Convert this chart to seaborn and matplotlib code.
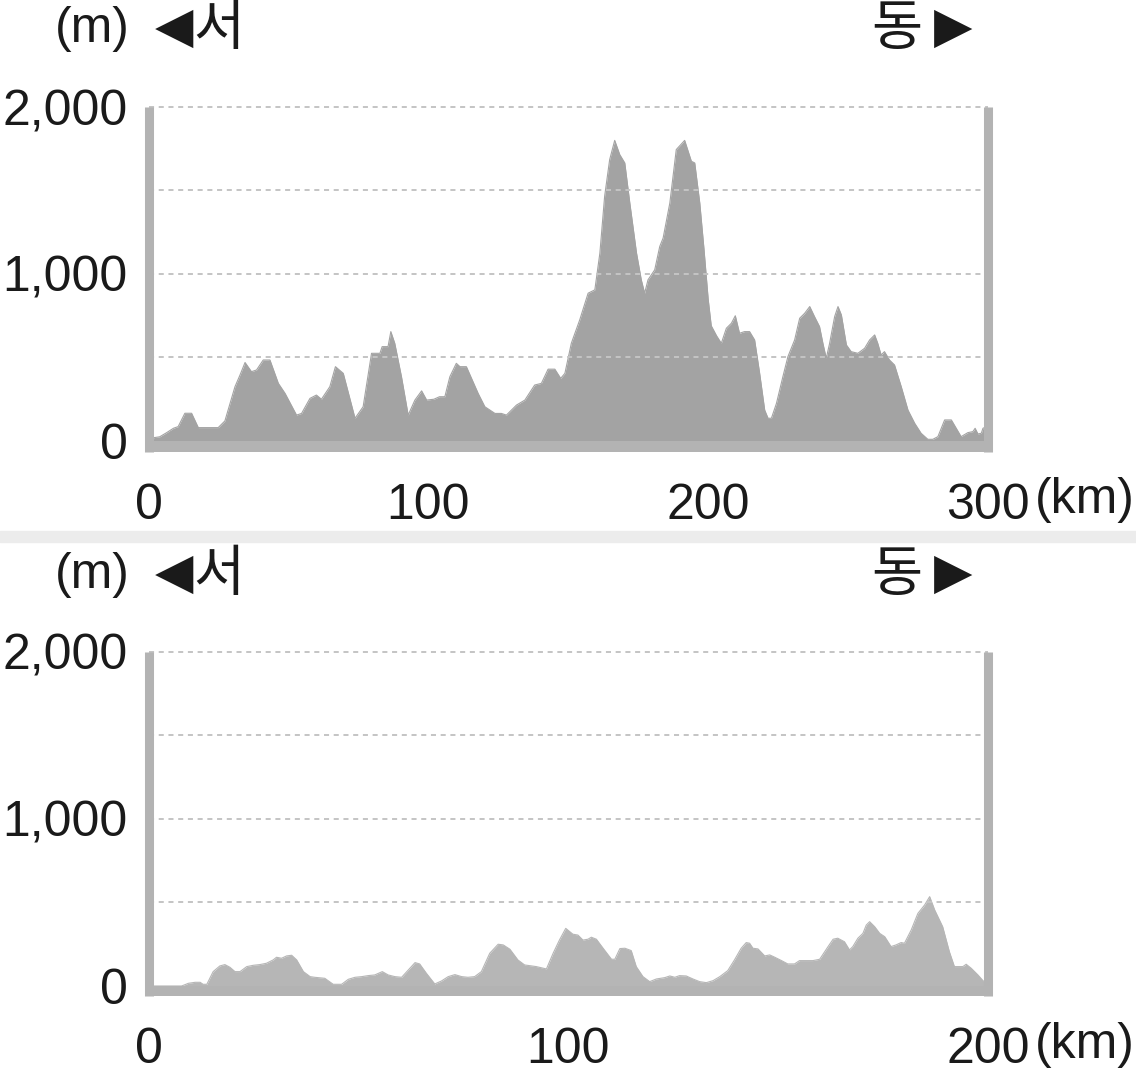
import matplotlib
matplotlib.use("Agg")
import matplotlib.pyplot as plt
import seaborn as sns
import pandas as pd

# ---------------- data ----------------
top_km = [0, 2, 4, 6.5, 8.9, 10.6, 13, 15.4, 17.8, 24.9, 27.3, 30.9, 32.7, 34.5, 36.8,
          38.6, 41, 43.4, 46.4, 48.8, 52.9, 54.7, 57.7, 60, 61.8, 64.8, 66.8, 69.6,
          73.8, 76.7, 79.7, 82.7, 83.5, 85.6, 86.6, 88, 90.4, 92.8, 95.2, 97.6, 99.4,
          102, 104, 105.9, 107.7, 110, 111.3, 113.6, 117.8, 120.2, 123.8, 126.1, 127.9,
          131.5, 134.5, 138, 140.4, 142.8, 145.2, 147.3, 148.8, 151.1, 154.1, 157.1,
          159.5, 161.3, 163, 164.8, 166.6, 168.4, 170.2, 172, 174.4, 176.1, 177.3,
          178.5, 180.9, 182.7, 183.9, 186.3, 188.6, 191.6, 194, 195.2, 197, 198.5, 200,
          201.1, 203, 204.7, 206.5, 208.3, 209.7, 211.2, 213, 214.8, 216.6, 218.4,
          220.2, 221.4, 222.6, 224.4, 226.7, 228.5, 230.9, 232.7, 234.5, 236.3, 238,
          239.8, 241, 242.2, 243.4, 245.2, 246.4, 247.6, 249.4, 251.1, 253.5, 255.9,
          257.7, 259.5, 260.6, 261.8, 263, 264.8, 266.6, 269, 271.4, 273.8, 276.1,
          278.5, 280.3, 282.1, 284.5, 286.9, 290.4, 292.8, 294.6, 295.4, 296.4, 297.6,
          298.2, 300]
top_elev = [10, 20, 25, 50, 76, 86, 166, 166, 80, 80, 120, 325, 395, 470, 415,
            425, 485, 485, 345, 285, 155, 165, 255, 275, 250, 325, 445, 405,
            136, 205, 525, 525, 565, 565, 655, 585, 385, 155, 245, 300, 245,
            250, 265, 265, 385, 465, 445, 445, 285, 205, 165, 165, 155,
            215, 245, 335, 345, 430, 430, 375, 405, 585, 725, 885,
            905, 1125, 1465, 1685, 1800, 1715, 1665, 1425, 1125, 965, 885,
            965, 1025, 1165, 1215, 1425, 1745, 1800, 1675, 1665, 1425, 1150, 850,
            690, 630, 585, 675, 705, 750, 645, 655, 655, 605, 405,
            185, 136, 136, 225, 385, 505, 605, 735, 765, 805, 745,
            685, 585, 495, 585, 745, 805, 755, 575, 535, 525, 555,
            605, 635, 585, 515, 535, 485, 455, 325, 185, 106, 46,
            10, 10, 26, 126, 126, 26, 50, 56, 76, 42, 46,
            76, 90]

bot_km = [0, 7.9, 9.5, 11.1, 12.3, 13, 13.9, 15.4, 17, 18.2, 19.4, 20.6, 21.8, 23.4,
          25, 26.5, 28.1, 29.7, 30.5, 31.7, 32.9, 34.1, 35.3, 36.9, 38.5, 39.6, 42,
          44, 46, 47.6, 49.2, 50.8, 52.3, 53.9, 55.7, 57.1, 58.7, 60.3, 61.9, 63.5,
          64.6, 66.2, 68.2, 69.8, 71.4, 73, 74.6, 76.1, 77.7, 79.3, 81.3, 83.3, 84.5,
          86.1, 88, 89.6, 92.4, 94.8, 96.4, 97.9, 99.4, 101.1, 102.3, 103.5, 104.7,
          105.5, 106.7, 108.3, 110.3, 111.1, 112.3, 113.5, 115, 116.2, 117.8, 119.4,
          121, 123, 124.2, 125.4, 126.5, 128.1, 129.7, 131.3, 132.9, 134.5, 136.1,
          138, 139.6, 141.2, 142.4, 143.2, 144, 145.2, 146.8, 148, 149.2, 150.8,
          152.3, 153.9, 155.1, 158.3, 159.9, 161.9, 163.1, 164.2, 165.8, 167, 167.8,
          169, 170.2, 171, 171.8, 173, 174.2, 175.4, 176.9, 178.1, 179.3, 180.1,
          181.7, 183.3, 184.9, 186.1, 187.3, 189.2, 190.8, 192, 194, 194.8, 196,
          197.6, 198.8, 200]
bot_elev = [0, 0, 16, 22, 22, 10, 10, 86, 120, 128, 112, 86, 86, 116,
            124, 128, 136, 156, 172, 166, 180, 184, 156, 86, 56, 52, 46,
            10, 10, 40, 52, 56, 62, 66, 86, 66, 56, 52, 96, 140,
            132, 76, 12, 30, 56, 68, 56, 52, 56, 86, 196, 250, 246,
            220, 156, 126, 116, 102, 196, 275, 345, 310, 305, 275, 280,
            292, 280, 226, 160, 160, 224, 226, 212, 116, 56, 26,
            42, 50, 60, 52, 62, 60, 42, 26, 20, 32, 56,
            92, 156, 226, 260, 256, 226, 222, 180, 186, 172, 152,
            132, 132, 152, 152, 160, 236, 280, 286, 265, 216, 236,
            286, 315, 365, 385, 355, 315, 295, 236, 246, 260, 256,
            335, 435, 485, 535, 455, 355, 205, 116, 116, 130, 106,
            66, 32, 10]

top_xticks = [0, 100, 200, 300]
bot_xticks = [0, 100, 200]
y_ticks = [0, 1000, 2000]
y_ticklabels = ["0", "1,000", "2,000"]
grid_levels = [500, 1000, 1500, 2000]

# ---------------- style ----------------
sns.set_theme(style="white")
plt.rcParams["font.family"] = ["Liberation Sans", "Noto Sans CJK KR", "DejaVu Sans"]

W, H = 1136, 1075
fig = plt.figure(figsize=(W / 100, H / 100), dpi=100)
fig.patch.set_facecolor("white")

TXT = "#1a1a1a"
FRAME = "#b3b3b3"
GRID = "#c4c4c4"
FS = 36
KFS = 40
KFAM = ["Noto Sans CJK KR", "DejaVu Sans"]

def fx(px):
    return px / W

def fy(py):
    return 1 - py / H

def make_panel(top_px, bot_px, ylo, km, elev, xticks, xmax, fill):
    ax = fig.add_axes([fx(148.5), fy(bot_px), fx(988) - fx(148.5), (bot_px - top_px) / H])
    df = pd.DataFrame({"km": km, "elev": elev})
    ax.fill_between(df["km"], df["elev"], 0, color=fill, linewidth=0, zorder=2)
    sns.lineplot(data=df, x="km", y="elev", ax=ax, color=fill, linewidth=0.8, zorder=2)
    ax.set_xlim(0, xmax)
    ax.set_ylim(ylo, 2000)
    for g in grid_levels:
        ax.axhline(g, color=GRID, linewidth=1.4, linestyle=(0, (2.6, 2.4)), zorder=3,
                   clip_on=False)
    ax.axhspan(ylo, 0, color=FRAME, linewidth=0, zorder=4)
    for s in ["top", "bottom"]:
        ax.spines[s].set_visible(False)
    for s in ["left", "right"]:
        ax.spines[s].set_color(FRAME)
        ax.spines[s].set_linewidth(6.5)
        ax.spines[s].set_capstyle("butt")
        ax.spines[s].set_zorder(5)
    ax.set_xticks(xticks)
    ax.set_xticklabels([str(t) for t in xticks])
    ax.set_yticks(y_ticks)
    ax.set_yticklabels(y_ticklabels)
    ax.tick_params(axis="both", length=0, labelsize=FS, colors=TXT)
    ax.tick_params(axis="x", pad=22)
    ax.tick_params(axis="y", pad=15)
    ax.set_xlabel("")
    ax.set_ylabel("")
    ax.grid(False)
    ax.set_facecolor("white")
    return ax

ax1 = make_panel(107, 452, -66, top_km, top_elev, top_xticks, 300, "#a3a3a3")
ax2 = make_panel(652, 996, -60, bot_km, bot_elev, bot_xticks, 200, "#b6b6b6")

# separator band between panels
fig.patches.append(plt.Rectangle((0, fy(542)), 1, (542 - 531) / H, transform=fig.transFigure,
                                 color="#ececec", zorder=0))

# header texts
for yc in (29, 575):
    fig.text(fx(92), fy(yc), "(m)", ha="center", va="center", fontsize=FS, color=TXT)
    fig.text(fx(174), fy(yc - 1), "◀", ha="center", va="center", fontsize=FS, color=TXT,
             family=["DejaVu Sans"])
    fig.text(fx(219), fy(yc), "서", ha="center", va="center", fontsize=KFS, color=TXT,
             family=KFAM)
    fig.text(fx(897), fy(yc), "동", ha="center", va="center", fontsize=KFS, color=TXT,
             family=KFAM)
    fig.text(fx(953), fy(yc - 1), "▶", ha="center", va="center", fontsize=FS, color=TXT,
             family=["DejaVu Sans"])

fig.text(fx(1035), fy(500), "(km)", ha="left", va="center", fontsize=FS, color=TXT)
fig.text(fx(1035), fy(1045), "(km)", ha="left", va="center", fontsize=FS, color=TXT)

fig.savefig("out.png", dpi=100, facecolor="white")
